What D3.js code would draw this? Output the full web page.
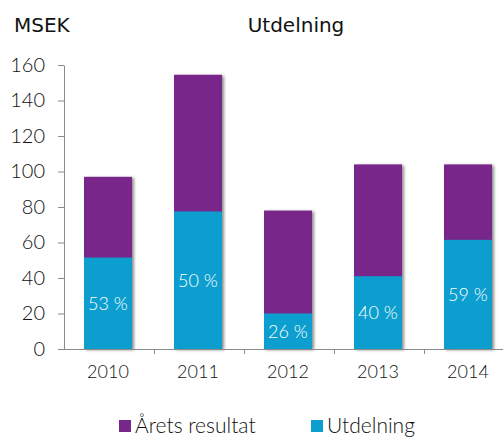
<!DOCTYPE html>
<html><head><meta charset="utf-8">
<script src="https://cdn.jsdelivr.net/npm/d3@7"></script>
<style>
html,body{margin:0;padding:0;background:#fff;}
svg{display:block;font-family:Lato,"Noto Sans",sans-serif;}
</style></head>
<body>
<svg id="c" width="503" height="438"></svg>
<script>
const years = ["2010","2011","2012","2013","2014"];
const aretsResultat = [97, 154.5, 78, 104, 104];
const utdelning = [51.5, 77.5, 20, 41, 61.5];
const pctLabels = ["53 %","50 %","26 %","40 %","59 %"];
const yTicks = [0,20,40,60,80,100,120,140,160];
const seriesNames = ["Årets resultat","Utdelning"];
const colors = ["#78278a","#0b9ecf"];

const svg = d3.select("#c");
const defs = svg.append("defs");
const f = defs.append("filter").attr("id","sh").attr("x","-20%").attr("y","-5%").attr("width","150%").attr("height","115%");
f.append("feDropShadow").attr("dx",2).attr("dy",1).attr("stdDeviation",1.5).attr("flood-color","#000").attr("flood-opacity",0.45);

const x = d3.scaleBand().domain(years).range([64,514]).padding(0);
const y = d3.scaleLinear().domain([0,160]).range([349,65]);
const barW = x.bandwidth()*48/90;

// bars
const g = svg.append("g");
years.forEach((yr,i)=>{
  const cx = x(yr)+x.bandwidth()/2 - 1;
  g.append("rect").attr("x",cx-barW/2).attr("y",y(aretsResultat[i])).attr("width",barW)
    .attr("height",y(0)-y(aretsResultat[i])).attr("fill",colors[0]).attr("filter","url(#sh)");
  g.append("rect").attr("x",cx-barW/2).attr("y",y(utdelning[i])).attr("width",barW)
    .attr("height",y(0)-y(utdelning[i])).attr("fill",colors[1]);
  g.append("text").attr("x",cx).attr("y",(y(utdelning[i])+y(0))/2).attr("dy","0.35em")
    .attr("text-anchor","middle").attr("fill","#fff").attr("font-size",18).attr("font-weight",300)
    .text(pctLabels[i]);
});

// y axis
const ya = svg.append("g").attr("transform","translate(64,0)")
  .call(d3.axisLeft(y).tickValues(yTicks).tickSize(6).tickPadding(13).tickSizeOuter(0));
ya.select(".domain").attr("stroke","#8a8a8a");
ya.selectAll(".tick line").attr("stroke","#8a8a8a");
ya.selectAll(".tick text").attr("font-size",20).attr("font-weight",300).attr("fill","#111").attr("font-family","Lato,sans-serif");

// x axis
svg.append("line").attr("x1",64).attr("x2",503).attr("y1",y(0)+0.5).attr("y2",y(0)+0.5).attr("stroke","#8a8a8a");
years.forEach((yr,i)=>{
  if(i>0) svg.append("line").attr("x1",x(yr)+0.5).attr("x2",x(yr)+0.5).attr("y1",y(0)).attr("y2",y(0)+5).attr("stroke","#8a8a8a");
  svg.append("text").attr("x",x(yr)+x.bandwidth()/2-1).attr("y",378).attr("text-anchor","middle")
    .attr("font-size",18).attr("font-weight",300).attr("fill","#111").text(yr);
});

// titles
svg.append("text").attr("x",14).attr("y",32).attr("font-family","'DejaVu Sans',sans-serif").attr("font-size",20).attr("fill","#111").text("MSEK");
svg.append("text").attr("x",296).attr("y",32).attr("text-anchor","middle").attr("font-family","'DejaVu Sans',sans-serif").attr("font-size",20).attr("fill","#111").text("Utdelning");

// legend
const legX = [119,311];
seriesNames.forEach((n,i)=>{
  svg.append("rect").attr("x",legX[i]).attr("y",420).attr("width",12).attr("height",12).attr("fill",colors[i]);
  svg.append("text").attr("x",legX[i]+16).attr("y",433).attr("font-size",21).attr("font-weight",300).attr("fill","#111").text(n);
});
</script>
</body></html>
